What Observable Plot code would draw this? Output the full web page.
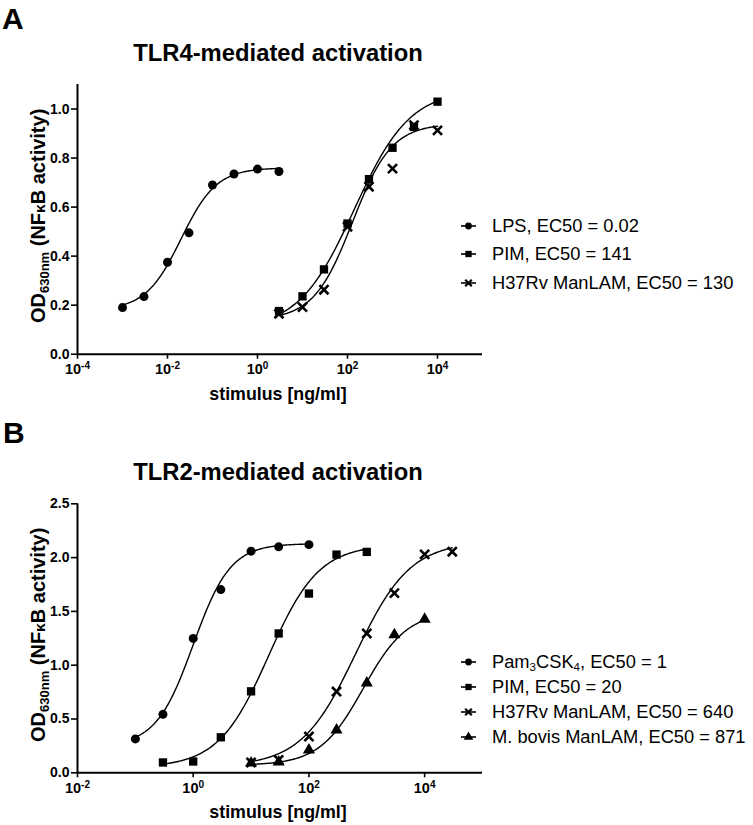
<!DOCTYPE html>
<html><head><meta charset="utf-8">
<script src="https://cdn.jsdelivr.net/npm/d3@7"></script>
<script src="https://cdn.jsdelivr.net/npm/@observablehq/plot@0.6"></script>
<style>
body{margin:0;background:#fff;}
#root{position:relative;width:753px;height:825px;font-family:"Liberation Sans",Arial,sans-serif;color:#000;overflow:hidden;background:#fff}
.abs{position:absolute;white-space:nowrap}
.letter{font-weight:bold;font-size:30px;line-height:1}
.title{font-weight:bold;font-size:23.8px;line-height:1;transform:translateX(-50%)}
.legrow{position:absolute;left:461px;display:flex;align-items:center;height:20px;font-size:18.3px;white-space:nowrap}
.legrow svg{flex:none}
sub{font-size:11.5px;vertical-align:-3px;line-height:0}
.plotbox{position:absolute;left:0}
</style></head><body><div id="root"></div>
<script>
// ---------- Panel A : TLR4 ----------
const aSeries = ["LPS", "PIM", "H37Rv ManLAM"];
const aLegend = ["LPS, EC50 = 0.02", "PIM, EC50 = 141", "H37Rv ManLAM, EC50 = 130"];
const aEC50 = [0.02, 141, 130];
const aX = [
  [0.001, 0.003, 0.01, 0.03, 0.1, 0.3, 1, 3],
  [3, 10, 30, 100, 300, 1000, 3000, 10000],
  [3, 10, 30, 100, 300, 1000, 3000, 10000]
];
const aY = [
  [0.19, 0.235, 0.375, 0.495, 0.69, 0.735, 0.755, 0.745],
  [0.176, 0.236, 0.346, 0.533, 0.714, 0.842, 0.927, 1.03],
  [0.165, 0.192, 0.263, 0.52, 0.683, 0.757, 0.934, 0.913]
];
// 4-parameter logistic fit parameters (bottom, top, Hill slope)
const aBottom = [0.18, 0.10, 0.14];
const aTop = [0.76, 1.08, 0.94];
const aHill = [1.1, 0.7, 1.0];
const aYTicks = [0, 0.2, 0.4, 0.6, 0.8, 1.0];
const aXTicks = [1e-4, 1e-2, 1, 1e2, 1e4];

// ---------- Panel B : TLR2 ----------
const bSeries = ["Pam3CSK4", "PIM", "H37Rv ManLAM", "M. bovis ManLAM"];
const bLegend = ["Pam<sub>3</sub>CSK<sub>4</sub>, EC50 = 1", "PIM, EC50 = 20", "H37Rv ManLAM, EC50 = 640", "M. bovis ManLAM, EC50 = 871"];
const bEC50 = [1, 20, 640, 871];
const bX = [
  [0.1, 0.3, 1, 3, 10, 30, 100],
  [0.3, 1, 3, 10, 30, 100, 300, 1000],
  [10, 30, 100, 300, 1000, 3000, 10000, 30000],
  [10, 30, 100, 300, 1000, 3000, 10000]
];
const bY = [
  [0.315, 0.543, 1.249, 1.703, 2.06, 2.10, 2.12],
  [0.096, 0.105, 0.33, 0.757, 1.295, 1.666, 2.028, 2.053],
  [0.096, 0.12, 0.337, 0.755, 1.295, 1.67, 2.03, 2.055],
  [0.09, 0.1, 0.213, 0.398, 0.835, 1.283, 1.428]
];
const bBottom = [0.25, 0.05, 0.06, 0.07];
const bTop = [2.13, 2.12, 2.15, 1.50];
const bHill = [1.35, 1.0, 0.92, 1.15];
const bYTicks = [0, 0.5, 1.0, 1.5, 2.0, 2.5];
const bXTicks = [1e-2, 1, 1e2, 1e4];

const symbols = ["circle", "square", "times", "triangle"];
const FONT = '"Liberation Sans", Arial, sans-serif';

function logistic(x, b, t, ec, h) {
  return b + (t - b) / (1 + Math.pow(10, (Math.log10(ec) - Math.log10(x)) * h));
}

function makePanel(cfg) {
  const pts = [], curves = [];
  cfg.series.forEach((s, i) => {
    cfg.xs[i].forEach((x, j) => pts.push({s, sym: symbols[i], x, y: cfg.ys[i][j]}));
    const x0 = Math.log10(d3.min(cfg.xs[i])), x1 = Math.log10(d3.max(cfg.xs[i]));
    for (let k = 0; k <= 160; k++) {
      const x = Math.pow(10, x0 + (x1 - x0) * k / 160);
      curves.push({s, x, y: logistic(x, cfg.bottom[i], cfg.top[i], cfg.ec50[i], cfg.hill[i])});
    }
  });
  const filled = symbols.filter(d => d !== "times");
  const svg = Plot.plot({
    width: 753, height: cfg.height,
    marginLeft: 77, marginRight: 271, marginTop: cfg.marginTop, marginBottom: cfg.marginBottom,
    x: {type: "log", domain: cfg.xDomain},
    y: {domain: cfg.yDomain},
    style: {fontFamily: FONT, fontSize: "14px", fontWeight: "bold", color: "black", background: "white", overflow: "visible"},
    marks: [
      Plot.axisY({ticks: cfg.yTicks, tickFormat: d3.format(".1f"), tickSize: 6, tickPadding: 2, strokeWidth: 1.6, label: null}),
      Plot.axisX({ticks: cfg.xTicks, tickFormat: d => "10^" + Math.round(Math.log10(d)), tickSize: 5, tickPadding: 5, strokeWidth: 1.6, label: null}),
      Plot.ruleX([cfg.xDomain[0]], {strokeWidth: 2}),
      Plot.ruleY([0], {strokeWidth: 2}),
      Plot.line(curves, {x: "x", y: "y", z: "s", stroke: "black", strokeWidth: 1.4}),
      ...filled.map(sym => Plot.dot(pts.filter(d => d.sym === sym), {x: "x", y: "y", symbol: sym, fill: "black", r: sym === "circle" ? 4.5 : sym === "square" ? 4.7 : 4.5})),
      Plot.dot(pts.filter(d => d.sym === "times"), {x: "x", y: "y", symbol: "times", stroke: "black", strokeWidth: 2.6, r: 4.2})
    ]
  });
  const s = d3.select(svg);
  s.selectAll('[aria-label="y-axis tick label"] text').style("font-size", "14px").style("font-weight", "bold");
  // superscript exponents on x tick labels
  s.selectAll('[aria-label="x-axis tick label"] text').each(function () {
    const [base, exp] = this.textContent.split("^");
    const t = d3.select(this).text(null).style("font-size", "14.5px").style("font-weight", "bold");
    t.append("tspan").text(base);
    t.append("tspan").style("font-size", "10px").attr("dy", "-5").text(exp);
  });
  const yMid = (cfg.marginTop + cfg.height - cfg.marginBottom) / 2;
  const yl = s.append("text").attr("transform", `translate(45,${yMid - 3}) rotate(-90)`)
    .attr("text-anchor", "middle").style("font-size", "20px").attr("font-weight", "bold").attr("fill", "black");
  yl.append("tspan").text("OD");
  yl.append("tspan").style("font-size", "13px").attr("dy", "4").text("630nm");
  yl.append("tspan").attr("dy", "-4").text(" (NF");
  yl.append("tspan").style("font-size", "15.5px").text("\u03BA");
  yl.append("tspan").text("B activity)");
  s.append("text").attr("x", 278).attr("y", cfg.height - cfg.marginBottom + cfg.xLabelOffset)
    .attr("text-anchor", "middle").style("font-size", "17.8px").attr("font-weight", "bold").attr("fill", "black")
    .text("stimulus [ng/ml]");
  return svg;
}

const root = document.getElementById("root");

function addDiv(cls, html, left, top) {
  const d = document.createElement("div");
  d.className = cls; d.innerHTML = html;
  d.style.left = left + "px"; d.style.top = top + "px";
  root.appendChild(d);
  return d;
}

function legendIcon(sym) {
  const svg = d3.create("svg").attr("width", 31).attr("height", 14);
  svg.append("line").attr("x1", 0).attr("x2", 15).attr("y1", 7).attr("y2", 7).attr("stroke", "black").attr("stroke-width", 1.6);
  const map = {circle: d3.symbolCircle, square: d3.symbolSquare, times: d3.symbolTimes, triangle: d3.symbolTriangle};
  const size = {circle: 36, square: 40, times: 30, triangle: 40}[sym];
  const p = svg.append("path").attr("transform", "translate(7.5,7)").attr("d", d3.symbol(map[sym], size)());
  if (sym === "times") p.attr("fill", "none").attr("stroke", "black").attr("stroke-width", 2.2);
  else p.attr("fill", "black");
  return svg.node();
}

function addLegend(labels, centers) {
  labels.forEach((lab, i) => {
    const row = document.createElement("div");
    row.className = "legrow";
    row.style.top = (centers[i] - 10) + "px";
    row.appendChild(legendIcon(symbols[i]));
    const span = document.createElement("span");
    span.innerHTML = lab;
    row.appendChild(span);
    root.appendChild(row);
  });
}

// Panel A
const boxA = document.createElement("div");
boxA.className = "plotbox"; boxA.style.top = "0px";
boxA.appendChild(makePanel({
  series: aSeries, xs: aX, ys: aY, bottom: aBottom, top: aTop, hill: aHill, ec50: aEC50,
  xDomain: [1e-4, 1e5], yDomain: [0, 1.1], yTicks: aYTicks, xTicks: aXTicks,
  height: 420, marginTop: 84, marginBottom: 66.3, xLabelOffset: 46
}));
root.appendChild(boxA);

// Panel B
const boxB = document.createElement("div");
boxB.className = "plotbox"; boxB.style.top = "420px";
boxB.appendChild(makePanel({
  series: bSeries, xs: bX, ys: bY, bottom: bBottom, top: bTop, hill: bHill, ec50: bEC50,
  xDomain: [1e-2, 1e5], yDomain: [0, 2.5], yTicks: bYTicks, xTicks: bXTicks,
  height: 405, marginTop: 83.3, marginBottom: 52.7, xLabelOffset: 46
}));
root.appendChild(boxB);

addDiv("abs letter", "A", 2, 4);
addDiv("abs letter", "B", 3, 418);
addDiv("abs title", "TLR4-mediated activation", 278, 41);
addDiv("abs title", "TLR2-mediated activation", 278, 460);
addLegend(aLegend, [226, 254, 283]);
addLegend(bLegend, [662, 687, 712, 737]);
</script>
</body></html>
